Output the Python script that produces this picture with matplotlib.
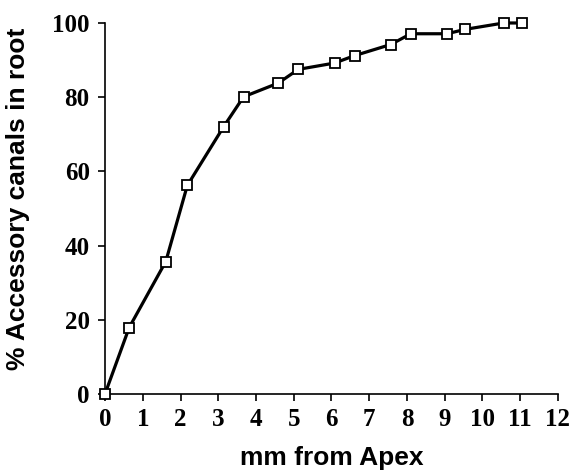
import numpy as np
import matplotlib
matplotlib.use('Agg')
import matplotlib.pyplot as plt

# --- data ---
mm_from_apex = [0, 0.64, 1.61, 2.18, 3.14, 3.67, 4.59, 5.12, 6.08, 6.61, 7.57, 8.10, 9.06, 9.55, 10.56, 11.04]
pct_canals = [0, 17.9, 35.7, 56.2, 72.0, 80.1, 83.8, 87.5, 89.2, 91.2, 94.2, 97.1, 97.1, 98.3, 100, 100]

x_ticks = np.arange(0, 13, 1)
y_ticks = np.arange(0, 101, 20)

fig = plt.figure(figsize=(5.71, 4.74), dpi=100)
ax = fig.add_axes([0.1839, 0.1688, 0.7933, 0.7827])

ax.plot(mm_from_apex, pct_canals, color='black', lw=2.3,
        marker='s', ms=6.8, mfc='white', mec='black', mew=1.3, clip_on=False, zorder=3)

ax.set_xlim(0, 12)
ax.set_ylim(0, 100)
ax.set_xticks(x_ticks)
ax.set_yticks(y_ticks)

for s in ['top', 'right']:
    ax.spines[s].set_visible(False)
for s in ['left', 'bottom']:
    ax.spines[s].set_linewidth(1.2)

ax.tick_params(direction='out', length=5, width=1.2)
ax.tick_params(axis='x', pad=5)
ax.tick_params(axis='y', pad=6)
for lab in ax.get_xticklabels() + ax.get_yticklabels():
    lab.set_fontfamily('Liberation Serif')
    lab.set_fontweight('bold')
    lab.set_fontsize(18)

ax.set_xlabel('mm from Apex', fontfamily='Liberation Sans', fontweight='bold', fontsize=19, labelpad=11)
ax.set_ylabel('% Accessory canals in root', fontfamily='Liberation Sans', fontweight='bold', fontsize=19)
ax.yaxis.set_label_coords(-0.166, 0.526)

fig.savefig('out.png', dpi=100)
